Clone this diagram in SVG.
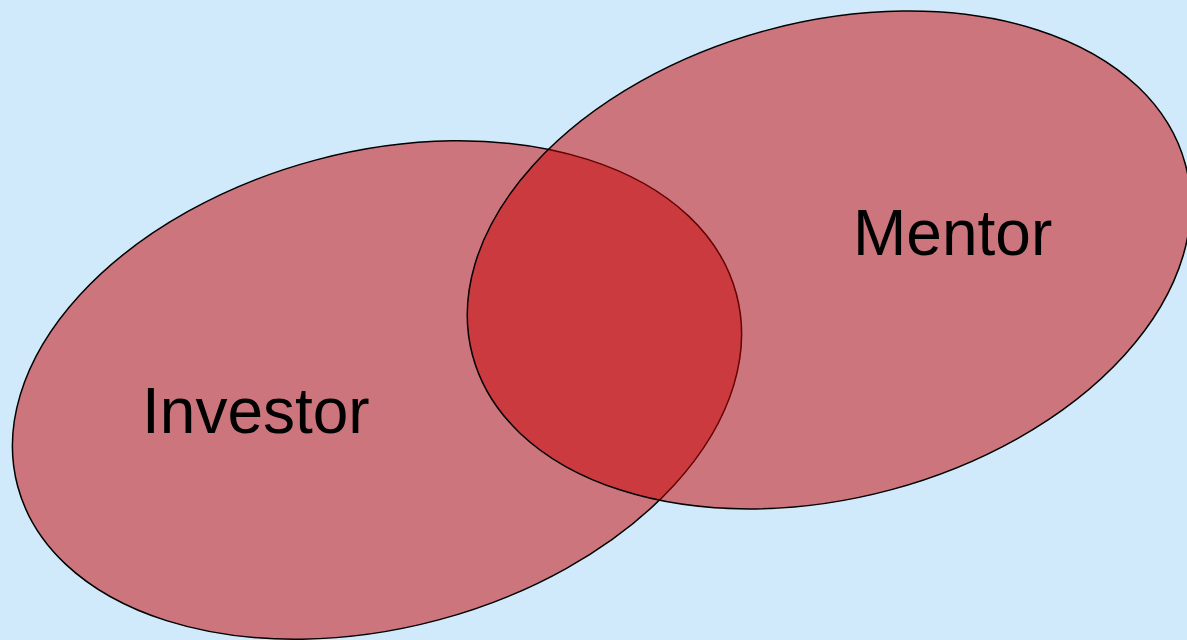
<svg xmlns="http://www.w3.org/2000/svg" width="1187" height="640" viewBox="0 0 1187 640">
<style>
.set{fill:#C80000;fill-opacity:0.5;stroke:#000;stroke-width:1.5}
.lbl{font-family:"Liberation Sans",Arial,sans-serif;font-size:64px;fill:#000}
</style>
<rect width="1187" height="640" fill="#D0EAFB"/>
<g id="investor">
<ellipse class="set" cx="377" cy="390" rx="372" ry="238" transform="rotate(-15 377 390)"/>
</g>
<g id="mentor">
<ellipse class="set" cx="829" cy="260" rx="369" ry="238" transform="rotate(-15 829 260)"/>
</g>
<g id="labels">
<text class="lbl" x="142" y="433">Investor</text>
<text class="lbl" x="853" y="255">Mentor</text>
</g>
</svg>
